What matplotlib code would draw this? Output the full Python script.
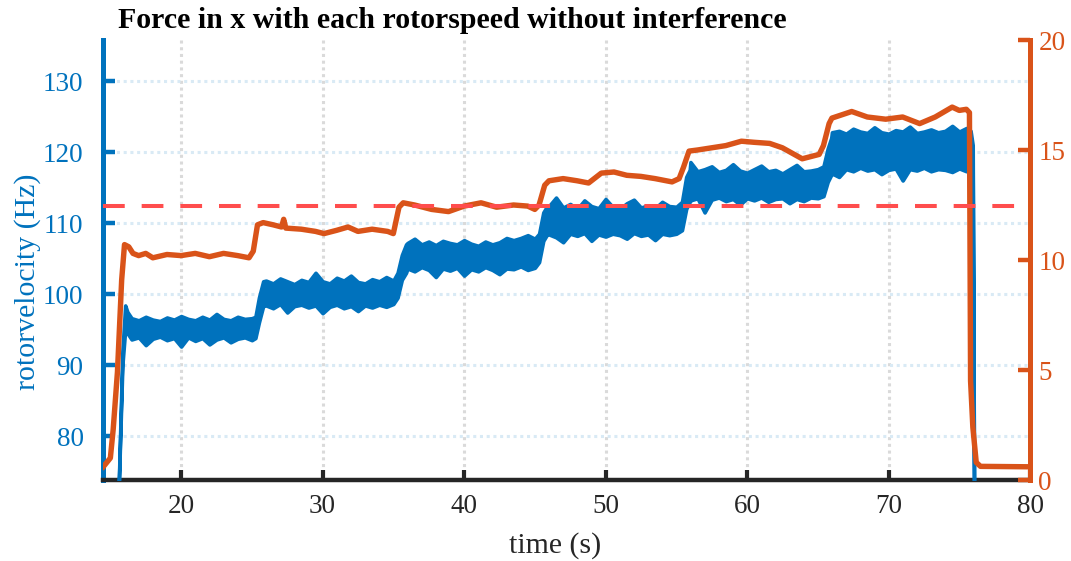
import matplotlib
matplotlib.use("Agg")
import matplotlib.pyplot as plt

plt.rcParams["font.family"] = ["Liberation Serif", "DejaVu Serif"]

BLUE = "#0072BD"
ORANGE = "#D95319"
DARK = "#262626"
RED = "#FF4D4D"

# rotor velocity (Hz): upper / lower edge of the noisy band at each time
blue_t = [15.55, 15.85, 16.05, 16.2,
          16.5, 17.0, 17.5, 18.0, 18.5, 19.0, 19.5, 20.0, 20.5, 21.0, 21.5,
          22.0, 22.5, 23.0, 23.5, 24.0, 24.5, 25.0,
          25.25, 25.5, 25.8,
          26.0, 26.5, 27.0, 27.5, 28.0, 28.5, 29.0, 29.5, 30.0, 30.5, 31.0,
          31.5, 32.0, 32.5, 33.0, 33.5, 34.0, 34.5, 35.0,
          35.3, 35.6, 35.9,
          36.0, 36.5, 37.0, 37.5, 38.0, 38.5, 39.0, 39.5, 40.0, 40.5, 41.0,
          41.5, 42.0, 42.5, 43.0, 43.5, 44.0, 44.5, 45.0,
          45.3, 45.6, 45.9,
          46.0, 46.5, 47.0, 47.5, 48.0, 48.5, 49.0, 49.5, 50.0, 50.5, 51.0,
          51.5, 52.0, 52.5, 53.0, 53.5, 54.0, 54.5, 55.0,
          55.4, 55.7, 55.95,
          56.0, 56.5, 57.0, 57.5, 58.0, 58.5, 59.0, 59.5, 60.0, 60.5, 61.0,
          61.5, 62.0, 62.5, 63.0, 63.5, 64.0, 64.5, 65.0,
          65.4, 65.7, 65.95,
          66.0, 66.5, 67.0, 67.5, 68.0, 68.5, 69.0, 69.5, 70.0, 70.5, 71.0,
          71.5, 72.0, 72.5, 73.0, 73.5, 74.0, 74.5, 75.0, 75.5,
          75.8, 75.95, 76.05]
blue_hi = [70.0, 92.0, 98.4, 97.5,
           96.6, 96.3, 96.8, 96.4, 96.2, 96.7, 96.4, 96.9, 96.5, 96.3, 96.8,
           96.4, 97.2, 96.5, 96.3, 96.8, 96.5, 96.6,
           96.8, 99.5, 101.8,
           101.9, 101.5, 102.2, 101.8, 101.4, 102.0, 101.7, 103.0, 101.8, 101.5, 102.3,
           101.9, 102.6, 101.7, 101.5, 102.1, 101.8, 102.4, 101.9,
           103.0, 105.5, 107.0,
           107.2, 107.8, 107.0, 107.4, 106.9, 107.5, 107.2, 107.0, 107.6, 107.1, 106.8,
           107.4, 107.0, 107.3, 107.9, 107.6, 107.9, 108.3, 107.8,
           108.5, 111.5, 112.5,
           112.4, 113.6, 112.2, 112.7, 112.0, 113.2, 112.4, 112.1, 113.4, 112.3, 112.0,
           112.8, 113.3, 112.2, 112.5, 112.1, 113.0, 112.4, 112.3,
           113.0, 116.5, 117.5,
           118.6, 117.3, 117.6, 118.0, 117.2, 117.5, 118.3, 117.4, 117.1, 117.6, 118.1,
           117.3, 117.5, 117.0, 117.6, 118.2, 117.3, 117.4, 117.6,
           118.0, 120.5, 122.0,
           122.8, 123.0, 122.6, 123.3, 122.9, 122.7, 123.5, 122.8, 122.6, 123.1, 122.9,
           123.6, 122.7, 122.9, 123.2, 122.8, 123.0, 123.7, 122.9, 123.4,
           123.0, 121.0, 70.0]
blue_lo = [70.0, 90.0, 95.0, 94.5,
           93.6, 93.9, 92.8, 93.7, 94.0, 93.5, 93.8, 92.6, 93.9, 93.4, 93.8,
           92.9, 93.6, 93.9, 93.2, 93.7, 93.9, 93.5,
           93.8, 96.0, 98.3,
           98.4, 98.0, 98.6, 97.4, 98.3, 98.5, 98.1, 98.4, 97.3, 98.2, 98.5,
           98.0, 98.3, 97.6, 98.4, 98.1, 98.5, 98.2, 98.6,
           99.5, 102.0, 103.0,
           103.6, 103.2, 103.8, 103.4, 102.4, 103.6, 103.3, 103.7, 102.6, 103.5, 103.2,
           103.8, 103.4, 102.8, 103.6, 103.5, 103.9, 103.4, 103.7,
           104.5, 107.5, 108.5,
           108.4, 108.0, 107.3, 108.5, 108.2, 108.6, 107.5, 108.4, 108.1, 108.5, 108.3,
           107.8, 108.6, 108.2, 108.4, 107.6, 108.5, 108.3, 108.5,
           109.0, 112.0, 113.0,
           113.2, 113.5, 111.5, 113.3, 113.6, 113.1, 113.4, 112.6, 113.5, 113.2, 113.6,
           113.0, 113.4, 113.5, 112.8, 113.4, 113.1, 113.6, 113.5,
           113.8, 115.8, 116.8,
           117.0, 116.5, 117.6, 117.3, 117.8, 117.4, 117.6, 116.9, 117.5, 117.7, 116.0,
           117.6, 117.4, 117.8, 117.3, 117.6, 117.5, 117.2, 117.7, 117.3,
           117.5, 117.0, 70.0]

# force in x (right axis)
force_t = [14.5, 15.0, 15.2, 15.5, 15.8, 16.0, 16.3, 16.6, 17.0, 17.5, 18.0,
           19.0, 20.0, 21.0, 22.0, 23.0, 24.0, 24.8, 25.1, 25.4, 25.8, 26.5,
           27.1, 27.25, 27.4, 28.5, 29.5, 30.1, 31.0, 31.8, 32.5, 33.5, 34.6,
           35.0, 35.4, 35.7, 36.5, 37.7, 38.9, 40.0, 41.2, 42.3, 43.5, 44.5,
           45.0, 45.3, 45.7, 46.0, 47.0, 48.0, 48.8, 49.7, 50.6, 51.5, 52.5,
           53.5, 54.7, 55.2, 55.5, 55.9, 56.5, 57.5, 58.5, 59.6, 60.5, 61.6,
           62.5, 63.9, 64.5, 65.1, 65.4, 65.8, 66.0, 66.7, 67.4, 68.5, 69.8,
           71.0, 72.2, 73.3, 74.5, 75.0, 75.5, 75.72, 75.8, 75.96, 76.2, 76.5,
           80.0]
force_x = [0.6, 1.0, 2.3, 4.9, 9.1, 10.7, 10.6, 10.3, 10.2, 10.3, 10.1,
           10.25, 10.2, 10.3, 10.15, 10.3, 10.2, 10.1, 10.4, 11.6, 11.7, 11.6,
           11.5, 11.85, 11.45, 11.4, 11.3, 11.2, 11.35, 11.5, 11.3, 11.4, 11.3,
           11.2, 12.4, 12.6, 12.5, 12.3, 12.2, 12.45, 12.6, 12.4, 12.5, 12.45,
           12.3, 12.5, 13.4, 13.6, 13.7, 13.6, 13.5, 13.95, 14.0, 13.85, 13.8,
           13.7, 13.55, 13.7, 14.2, 14.95, 15.0, 15.1, 15.2, 15.4, 15.35, 15.3,
           15.1, 14.6, 14.7, 14.8, 15.2, 16.2, 16.45, 16.6, 16.75, 16.5, 16.4,
           16.5, 16.2, 16.5, 16.95, 16.8, 16.85, 16.7, 4.5, 2.4, 0.8, 0.62,
           0.6]

force_limit = 12.45

x_ticks = [20, 30, 40, 50, 60, 70, 80]
vel_ticks = [80, 90, 100, 110, 120, 130]
force_ticks = [0, 5, 10, 15, 20]

fig = plt.figure(figsize=(10.71, 5.61), dpi=100)
ax = fig.add_axes([103 / 1071, 81 / 561, 927 / 1071, 440 / 561])
ax2 = ax.twinx()

# left axis: rotor velocity band
ax.fill_between(blue_t, blue_lo, blue_hi, color=BLUE, lw=2.6,
                joinstyle="round", zorder=3)
ax.set_xlim(14.48, 80)
ax.set_ylim(73.8, 135.8)
ax.set_xticks(x_ticks)
ax.set_yticks(vel_ticks)
ax.xaxis.grid(True, color="#dadada", ls=(0, (1, 1.2)), lw=2.2)
ax.yaxis.grid(True, color="#d9eaf5", ls=(0, (1, 1.2)), lw=2.2)
ax.set_axisbelow(True)

# right axis: force and limit line
ax2.plot(force_t, force_x, color=ORANGE, lw=3.9, solid_joinstyle="round")
lim = ax2.axhline(force_limit, color=RED, lw=2.9)
lim.set_dashes([5.4, 4.2])
ax2.set_ylim(0, 20)
ax2.set_yticks(force_ticks)

for a in (ax, ax2):
    a.spines["top"].set_visible(False)
ax.spines["right"].set_visible(False)
ax2.spines["left"].set_visible(False)
ax2.spines["bottom"].set_visible(False)
ax.spines["left"].set_color(BLUE)
ax.spines["left"].set_linewidth(3.6)
ax.spines["bottom"].set_color(DARK)
ax.spines["bottom"].set_linewidth(3.2)
ax2.spines["right"].set_color(ORANGE)
ax2.spines["right"].set_linewidth(3.6)

ax.tick_params(axis="x", direction="in", length=7.5, width=3.0, color=DARK,
               labelcolor=DARK, labelsize=19.5, pad=10)
ax.tick_params(axis="y", direction="in", length=8.5, width=3.2, color=BLUE,
               labelcolor=BLUE, labelsize=19.5, pad=14)
ax2.tick_params(axis="y", direction="in", length=8.5, width=3.2, color=ORANGE,
                labelcolor=ORANGE, labelsize=19.5, pad=6)

ax.set_xlabel("time (s)", fontsize=21.5, color=DARK, va="center")
ax.xaxis.set_label_coords(0.488, -0.148)
ax.set_ylabel("rotorvelocity (Hz)", fontsize=21.5, color=BLUE, va="center")
ax.yaxis.set_label_coords(-0.081, 0.45)

fig.text(118 / 1071, 1 - 28 / 561,
         "Force in x with each rotorspeed without interference",
         fontsize=21.5, fontweight="bold", ha="left", va="baseline")

fig.savefig("out.png", dpi=100)
plt.close(fig)
